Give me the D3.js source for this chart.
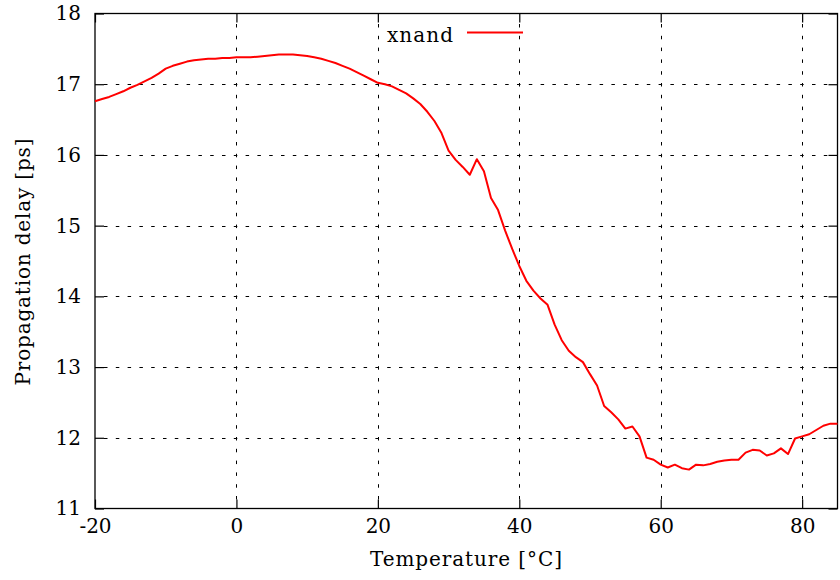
<!DOCTYPE html>
<html>
<head>
<meta charset="utf-8">
<script src="https://cdn.jsdelivr.net/npm/d3@7"></script>
<style>
  body { margin: 0; background: #fff; }
  svg { display: block; }
  text { font-family: "DejaVu Serif", serif; fill: #000; }
</style>
</head>
<body>
<svg id="chart" width="840" height="580"></svg>
<script>
const MARGINS = { top: 13, left: 95, bottom: 71, right: 2 }
const WIDTH = 840, HEIGHT = 580

// data, one sample per degree

const temperature = d3.range(-20, 86)

const xnand = [
  16.76, 16.79, 16.82, 16.86, 16.90, 16.95, 16.99, 17.04, 17.09, 17.15,   // -20 .. -11
  17.22, 17.26, 17.29, 17.32, 17.34, 17.35, 17.36, 17.36, 17.37, 17.37,   // -10 .. -1
  17.38, 17.38, 17.38, 17.39, 17.40, 17.41, 17.42, 17.42, 17.42, 17.41,   //   0 .. 9
  17.40, 17.38, 17.36, 17.33, 17.30, 17.26, 17.22, 17.17, 17.12, 17.07,   //  10 .. 19
  17.02, 17.00, 16.97, 16.92, 16.87, 16.80, 16.72, 16.61, 16.48, 16.31,   //  20 .. 29
  16.06, 15.93, 15.83, 15.72, 15.94, 15.77, 15.39, 15.22, 14.93, 14.67,   //  30 .. 39
  14.43, 14.22, 14.08, 13.97, 13.88, 13.60, 13.38, 13.23, 13.14, 13.07,   //  40 .. 49
  12.90, 12.74, 12.45, 12.36, 12.26, 12.13, 12.16, 12.02, 11.72, 11.69,   //  50 .. 59
  11.62, 11.58, 11.62, 11.57, 11.55, 11.62, 11.61, 11.63, 11.66, 11.68,   //  60 .. 69
  11.69, 11.69, 11.79, 11.83, 11.82, 11.75, 11.78, 11.85, 11.77, 11.99,   //  70 .. 79
  12.02, 12.05, 12.11, 12.17, 12.20, 12.20                                //  80 .. 85
]

const xTicks = [-20, 0, 20, 40, 60, 80]
const yTicks = [11, 12, 13, 14, 15, 16, 17, 18]

const seriesName = 'xnand'
const xTitle = 'Temperature [°C]'
const yTitle = 'Propagation delay [ps]'

// scales

let x = d3.scaleLinear()
  .domain([-20, 85])
  .range([MARGINS.left, WIDTH - MARGINS.right - 0.5])

let y = d3.scaleLinear()
  .domain([11, 18])
  .range([HEIGHT - MARGINS.bottom - 0.5, MARGINS.top + 0.5])

let svg = d3.select('#chart')
let [x0, x1] = x.range()
let [y0, y1] = y.range()

// gnuplot style labels: plain integers, ascii hyphen for negatives
let fmt = (d) => String(d)

// dotted grid

let grid = svg.append('g')
  .attr('stroke', '#000')
  .attr('stroke-width', 1)
  .attr('stroke-dasharray', '3.5,8.3')

grid.selectAll('line.gx')
  .data(xTicks.slice(1))
  .join('line')
  .attr('x1', d => Math.round(x(d)) + 0.5).attr('x2', d => Math.round(x(d)) + 0.5)
  .attr('y1', y0 - 9).attr('y2', y1 + 9)

grid.selectAll('line.gy')
  .data(yTicks.slice(1, -1))
  .join('line')
  .attr('y1', d => Math.round(y(d)) + 0.5).attr('y2', d => Math.round(y(d)) + 0.5)
  .attr('x1', x0 + 9).attr('x2', x1 - 9)

// axes, ticks pointing inwards on all four sides

function styleAxis(g) {
  g.attr('font-family', null).attr('font-size', 20)
  g.select('.domain').remove()
  g.selectAll('.tick line').attr('stroke', '#000').attr('stroke-width', 1.2)
  g.selectAll('.tick text').attr('fill', '#000')
}

svg.append('g')
  .attr('transform', 'translate(0,' + y0 + ')')
  .call(d3.axisBottom(x).tickValues(xTicks).tickFormat(fmt).tickSizeInner(-9).tickSizeOuter(0).tickPadding(10))
  .call(styleAxis)

svg.append('g')
  .attr('transform', 'translate(0,' + y1 + ')')
  .call(d3.axisTop(x).tickValues(xTicks).tickSizeInner(-9).tickSizeOuter(0).tickFormat(''))
  .call(styleAxis)

svg.append('g')
  .attr('transform', 'translate(' + x0 + ',0)')
  .call(d3.axisLeft(y).tickValues(yTicks).tickFormat(fmt).tickSizeInner(-9).tickSizeOuter(0).tickPadding(14))
  .call(styleAxis)

svg.append('g')
  .attr('transform', 'translate(' + x1 + ',0)')
  .call(d3.axisRight(y).tickValues(yTicks).tickSizeInner(-9).tickSizeOuter(0).tickFormat(''))
  .call(styleAxis)

// frame

svg.append('rect')
  .attr('x', x0).attr('y', y1)
  .attr('width', x1 - x0).attr('height', y0 - y1)
  .attr('fill', 'none')
  .attr('stroke', '#000')
  .attr('stroke-width', 1.3)

// the curve

let line = d3.line()
  .x((d, i) => x(temperature[i]))
  .y(d => y(d))

svg.append('path')
  .datum(xnand)
  .attr('fill', 'none')
  .attr('stroke', '#ff0000')
  .attr('stroke-width', 2)
  .attr('stroke-linejoin', 'round')
  .attr('d', line)

// key

svg.append('text')
  .attr('x', 453).attr('y', 42)
  .attr('text-anchor', 'end')
  .attr('font-size', 20)
  .attr('textLength', 66)
  .text(seriesName)

svg.append('line')
  .attr('x1', 467).attr('x2', 523)
  .attr('y1', 32.5).attr('y2', 32.5)
  .attr('stroke', '#ff0000')
  .attr('stroke-width', 2)

// titles

svg.append('text')
  .attr('x', 466).attr('y', 566)
  .attr('text-anchor', 'middle')
  .attr('font-size', 20)
  .attr('textLength', 192)
  .text(xTitle)

svg.append('text')
  .attr('transform', 'translate(30,262) rotate(-90)')
  .attr('text-anchor', 'middle')
  .attr('font-size', 20)
  .attr('textLength', 247)
  .text(yTitle)
</script>
</body>
</html>
